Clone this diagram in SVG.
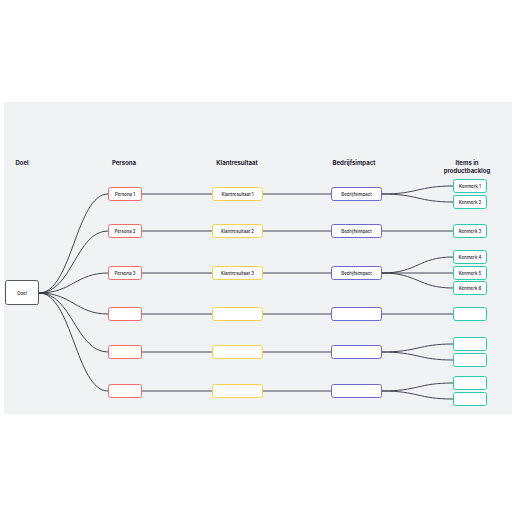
<svg xmlns="http://www.w3.org/2000/svg" width="516" height="516" viewBox="0 0 516 516">
<style>
.hdr{font-family:Inter,"Liberation Sans",sans-serif;font-size:6px;font-weight:700;fill:#1f2330;text-anchor:middle}
.lbl{font-family:Inter,"Liberation Sans",sans-serif;font-size:4.4px;font-weight:500;fill:#1f2330;text-anchor:middle;dominant-baseline:central}
.n{fill:#ffffff;stroke-width:1}
.doel{stroke:#55585f}
.per{stroke:#f56b6b}
.kla{stroke:#f7d24a}
.bed{stroke:#6a6ad2}
.itm{stroke:#27cdb0}
.c{fill:none;stroke:#2f3440;stroke-width:0.9}
</style>
<rect x="4" y="102" width="508" height="312" fill="#f1f2f4"/>
<g id="headers">
<text class="hdr" x="22" y="165">Doel</text>
<text class="hdr" x="124" y="165">Persona</text>
<text class="hdr" x="237" y="165">Klantresultaat</text>
<text class="hdr" x="354" y="165">Bedrijfsimpact</text>
<text class="hdr" x="467" y="165">Items in</text>
<text class="hdr" x="467" y="173">productbacklog</text>
</g>
<g id="connectors">
<path class="c" d="M39,293 C72,293 76,194 108,194"/>
<path class="c" d="M39,293 C72,293 76,231 108,231"/>
<path class="c" d="M39,293 C72,293 76,273 108,273"/>
<path class="c" d="M39,293 C72,293 76,314 108,314"/>
<path class="c" d="M39,293 C72,293 76,352 108,352"/>
<path class="c" d="M39,293 C72,293 76,391 108,391"/>
<path class="c" d="M141,194 H212 M141,231 H212 M141,273 H212 M141,314 H212 M141,352 H212 M141,391 H212"/>
<path class="c" d="M263,194 H331 M263,231 H331 M263,273 H331 M263,314 H331 M263,352 H331 M263,391 H331"/>
<path class="c" d="M382,194 C418,194 418,186 453,186"/>
<path class="c" d="M382,194 C418,194 418,202 453,202"/>
<path class="c" d="M382,231 H453"/>
<path class="c" d="M382,273 C418,273 418,257 453,257"/>
<path class="c" d="M382,273 H453"/>
<path class="c" d="M382,273 C418,273 418,288 453,288"/>
<path class="c" d="M382,314 H453"/>
<path class="c" d="M382,352 C418,352 418,344 453,344"/>
<path class="c" d="M382,352 C418,352 418,360 453,360"/>
<path class="c" d="M382,391 C418,391 418,383 453,383"/>
<path class="c" d="M382,391 C418,391 418,399 453,399"/>
</g>
<g id="doel"><rect class="n doel" x="5.5" y="280.5" width="33" height="24" rx="2"/><text class="lbl" x="22" y="293">Doel</text></g>
<g id="persona1"><rect class="n per" x="108.5" y="187.5" width="33" height="13" rx="2"/><text class="lbl" x="125" y="194">Persona 1</text></g>
<g id="persona2"><rect class="n per" x="108.5" y="224.5" width="33" height="13" rx="2"/><text class="lbl" x="125" y="231">Persona 2</text></g>
<g id="persona3"><rect class="n per" x="108.5" y="266.5" width="33" height="13" rx="2"/><text class="lbl" x="125" y="273">Persona 3</text></g>
<g id="persona4"><rect class="n per" x="108.5" y="307.5" width="33" height="13" rx="2"/></g>
<g id="persona5"><rect class="n per" x="108.5" y="345.5" width="33" height="13" rx="2"/></g>
<g id="persona6"><rect class="n per" x="108.5" y="384.5" width="33" height="13" rx="2"/></g>
<g id="klant1"><rect class="n kla" x="212.5" y="187.5" width="50" height="13" rx="2"/><text class="lbl" x="237.5" y="194">Klantresultaat 1</text></g>
<g id="klant2"><rect class="n kla" x="212.5" y="224.5" width="50" height="13" rx="2"/><text class="lbl" x="237.5" y="231">Klantresultaat 2</text></g>
<g id="klant3"><rect class="n kla" x="212.5" y="266.5" width="50" height="13" rx="2"/><text class="lbl" x="237.5" y="273">Klantresultaat 3</text></g>
<g id="klant4"><rect class="n kla" x="212.5" y="307.5" width="50" height="13" rx="2"/></g>
<g id="klant5"><rect class="n kla" x="212.5" y="345.5" width="50" height="13" rx="2"/></g>
<g id="klant6"><rect class="n kla" x="212.5" y="384.5" width="50" height="13" rx="2"/></g>
<g id="bedrijf1"><rect class="n bed" x="331.5" y="187.5" width="50" height="13" rx="2"/><text class="lbl" x="356.5" y="194">Bedrijfsimpact</text></g>
<g id="bedrijf2"><rect class="n bed" x="331.5" y="224.5" width="50" height="13" rx="2"/><text class="lbl" x="356.5" y="231">Bedrijfsimpact</text></g>
<g id="bedrijf3"><rect class="n bed" x="331.5" y="266.5" width="50" height="13" rx="2"/><text class="lbl" x="356.5" y="273">Bedrijfsimpact</text></g>
<g id="bedrijf4"><rect class="n bed" x="331.5" y="307.5" width="50" height="13" rx="2"/></g>
<g id="bedrijf5"><rect class="n bed" x="331.5" y="345.5" width="50" height="13" rx="2"/></g>
<g id="bedrijf6"><rect class="n bed" x="331.5" y="384.5" width="50" height="13" rx="2"/></g>
<g id="kenmerk1"><rect class="n itm" x="453.5" y="179.5" width="33" height="13" rx="2"/><text class="lbl" x="470" y="186">Kenmerk 1</text></g>
<g id="kenmerk2"><rect class="n itm" x="453.5" y="195.5" width="33" height="13" rx="2"/><text class="lbl" x="470" y="202">Kenmerk 2</text></g>
<g id="kenmerk3"><rect class="n itm" x="453.5" y="224.5" width="33" height="13" rx="2"/><text class="lbl" x="470" y="231">Kenmerk 3</text></g>
<g id="kenmerk4"><rect class="n itm" x="453.5" y="250.5" width="33" height="13" rx="2"/><text class="lbl" x="470" y="257">Kenmerk 4</text></g>
<g id="kenmerk5"><rect class="n itm" x="453.5" y="266.5" width="33" height="13" rx="2"/><text class="lbl" x="470" y="273">Kenmerk 5</text></g>
<g id="kenmerk6"><rect class="n itm" x="453.5" y="281.5" width="33" height="13" rx="2"/><text class="lbl" x="470" y="288">Kenmerk 6</text></g>
<g id="item7"><rect class="n itm" x="453.5" y="307.5" width="33" height="13" rx="2"/></g>
<g id="item8"><rect class="n itm" x="453.5" y="337.5" width="33" height="13" rx="2"/></g>
<g id="item9"><rect class="n itm" x="453.5" y="353.5" width="33" height="13" rx="2"/></g>
<g id="item10"><rect class="n itm" x="453.5" y="376.5" width="33" height="13" rx="2"/></g>
<g id="item11"><rect class="n itm" x="453.5" y="392.5" width="33" height="13" rx="2"/></g>
</svg>
